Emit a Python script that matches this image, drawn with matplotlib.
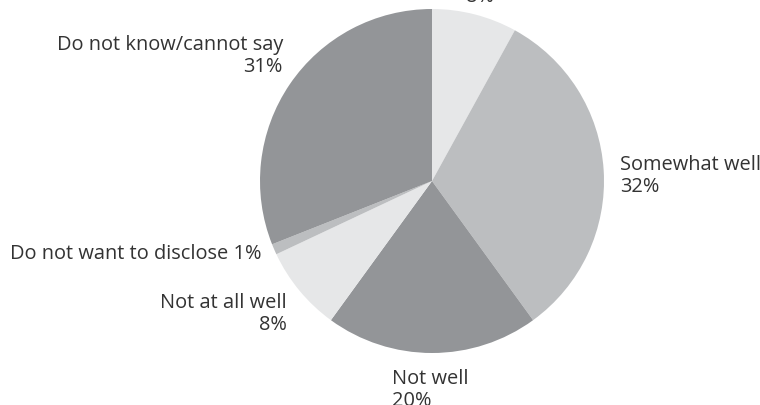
import numpy as np
import matplotlib.pyplot as plt

plt.rcParams['font.family'] = ['Open Sans', 'DejaVu Sans']

labels = ["Very well", "Somewhat well", "Not well", "Not at all well",
          "Do not want to disclose", "Do not know/cannot say"]
shares = [8, 32, 20, 8, 1, 31]
colors = ["#e6e7e8", "#bcbec0", "#939598", "#e6e7e8", "#bcbec0", "#939598"]

# per-label placement: radial distance, angle nudge (deg), alignment
LABEL_R = [1.167, 1.093, 1.215, 1.144, 1.076, 1.131]
LABEL_NUDGE = [0.6, -2.1, -0.5, 2.9, -0.2, -5.8]
LABEL_HA = ["center", "left", "center", "right", "right", "right"]
LABEL_MA = ["center", "left", "left", "right", "right", "right"]
ONE_LINE = [False, False, False, False, True, False]

W, H = 760, 405
CX, CY, R = 432, 181, 172

fig = plt.figure(figsize=(W / 100, H / 100), dpi=100)
ax = fig.add_axes([(CX - R) / W, (H - CY - R) / H, 2 * R / W, 2 * R / H])
wedges, _ = ax.pie(shares, colors=colors, startangle=90, counterclock=False,
                   radius=1, wedgeprops=dict(linewidth=0))
ax.set_xlim(-1, 1)
ax.set_ylim(-1, 1)
ax.set_aspect("equal")
ax.axis("off")

for i, (w, lab, val) in enumerate(zip(wedges, labels, shares)):
    mid = np.deg2rad((w.theta1 + w.theta2) / 2 + LABEL_NUDGE[i])
    r = LABEL_R[i]
    txt = f"{lab} {val}%" if ONE_LINE[i] else f"{lab}\n{val}%"
    ax.text(r * np.cos(mid), r * np.sin(mid), txt, ha=LABEL_HA[i],
            va="center", multialignment=LABEL_MA[i], fontsize=14.4,
            color="#333333", linespacing=1.12, clip_on=False)

fig.savefig("out.png", dpi=100)
